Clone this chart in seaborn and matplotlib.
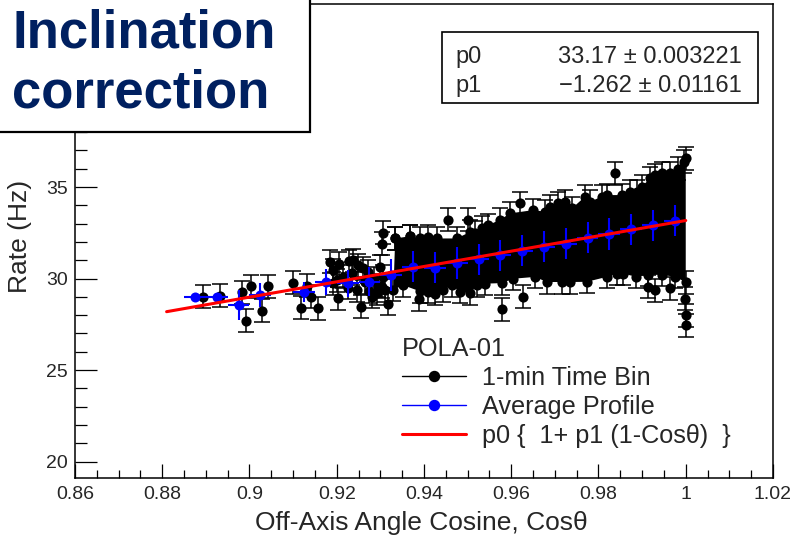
import numpy as np
import pandas as pd
import matplotlib
matplotlib.use("Agg")
import matplotlib.pyplot as plt
import seaborn as sns
from matplotlib.lines import Line2D
from matplotlib.patches import Rectangle
from matplotlib.ticker import MultipleLocator, FixedLocator, FixedFormatter

# ---------------- data ----------------
p0, p0_err = 33.17, 0.003221
p1, p1_err = -1.262, 0.01161

# individual 1-min bins (sparse part + outliers)
pts_x = [0.8893, 0.8932, 0.8983, 0.8991, 0.9003, 0.9029, 0.9042, 0.9099, 0.9118,
         0.9131, 0.9140, 0.9156, 0.9185, 0.9205, 0.9204, 0.9192, 0.9227, 0.9237,
         0.9249, 0.9261, 0.9272, 0.9299, 0.9307, 0.9255, 0.9246, 0.9292, 0.9303,
         0.9311, 0.9192, 0.9215, 0.9280, 0.9318, 0.9305, 0.9303, 0.9334, 0.9368,
         0.9389, 0.9456, 0.9502, 0.9578, 0.9626, 0.9620, 0.9838, 0.9914, 0.9930,
         0.9964, 0.9998, 1.0000, 1.0000, 0.9200, 0.9225, 0.9235, 0.9265, 0.9285,
         0.9295, 0.9275]
pts_y = [29.00, 29.06, 29.26, 27.69, 29.59, 28.24, 29.59, 29.77, 28.40,
         29.60, 29.00, 28.37, 30.91, 30.82, 28.91, 30.46, 30.95, 31.00,
         30.73, 30.55, 30.37, 30.64, 30.09, 28.46, 29.37, 29.19, 29.55,
         29.37, 29.73, 30.09, 29.00, 28.62, 32.49, 31.91, 32.19, 32.31,
         28.88, 33.20, 33.22, 28.33, 29.00, 34.10, 35.74, 29.55, 29.37,
         29.46, 28.90, 28.00, 27.45, 29.90, 29.50, 30.30, 29.80, 30.00,
         29.60, 29.30]

# dense band of 1-min bins: upper and lower edge points
top_x = [0.9334, 0.9368, 0.9391, 0.9410, 0.9429, 0.9475, 0.9506, 0.9517, 0.9532,
         0.9547, 0.9574, 0.9597, 0.9651, 0.9677, 0.9689, 0.9708, 0.9723, 0.9739,
         0.9769, 0.9781, 0.9807, 0.9819, 0.9853, 0.9872, 0.9888, 0.9899, 0.9918,
         0.9930, 0.9945, 0.9964, 0.9983, 0.9995, 1.0000]
top_y = [32.19, 32.31, 32.19, 32.29, 32.19, 32.19, 32.55, 32.50, 32.78,
         32.92, 33.20, 33.56, 33.74, 33.65, 33.92, 34.10, 34.20, 33.83,
         34.47, 34.20, 34.47, 34.56, 34.56, 34.74, 34.74, 35.01, 35.47,
         35.65, 35.74, 35.74, 36.01, 36.38, 36.56]
bot_x = [0.9330, 0.9353, 0.9391, 0.9410, 0.9425, 0.9444, 0.9464, 0.9483, 0.9506,
         0.9521, 0.9540, 0.9578, 0.9605, 0.9655, 0.9681, 0.9716, 0.9735, 0.9773,
         0.9819, 0.9842, 0.9857, 0.9885, 0.9914, 0.9945, 0.9975, 1.0000]
bot_y = [29.40, 29.63, 29.30, 29.27, 29.18, 29.36, 29.63, 29.27, 29.20,
         29.63, 29.72, 29.75, 29.99, 30.09, 29.81, 29.81, 29.81, 29.82,
         30.09, 30.27, 30.27, 30.10, 30.20, 30.20, 30.10, 29.80]
rate_err = 0.63

# average profile (5e-3 wide bins)
prof_x = [0.8875, 0.8925, 0.8975, 0.9025, 0.9125, 0.9175, 0.9225, 0.9275, 0.9325,
          0.9375, 0.9425, 0.9475, 0.9525, 0.9575, 0.9625, 0.9675, 0.9725, 0.9775,
          0.9825, 0.9875, 0.9925, 0.9975]
prof_y = [29.00, 29.00, 28.55, 29.08, 29.27, 29.82, 29.73, 29.82, 30.19,
          30.65, 30.60, 30.85, 31.06, 31.27, 31.52, 31.74, 31.90, 32.22,
          32.43, 32.70, 32.92, 33.15]
prof_yerr = [0.0, 0.0, 0.80, 0.65, 0.55, 0.70, 0.75, 0.80, 0.85,
             0.85, 0.85, 0.85, 0.85, 0.85, 0.85, 0.85, 0.85, 0.85,
             0.85, 0.85, 0.85, 0.85]
prof_xerr = 0.0025

fit_range = [0.881, 1.0]

xtick_vals = [0.86, 0.88, 0.90, 0.92, 0.94, 0.96, 0.98, 1.00, 1.02]
xtick_labels = ["0.86", "0.88", "0.9", "0.92", "0.94", "0.96", "0.98", "1", "1.02"]
ytick_vals = [20, 25, 30, 35]
ytick_labels = ["20", "25", "30", "35"]

# ---------------- figure ----------------
sns.set_theme(style="ticks")
plt.rcParams["font.family"] = ["Liberation Sans", "DejaVu Sans"]

fig = plt.figure(figsize=(7.92, 5.48), dpi=100)
ax = fig.add_axes([0.0947, 0.1277, 0.8813, 0.865])

black = pd.DataFrame({"x": pts_x + top_x + bot_x, "y": pts_y + top_y + bot_y})

# dense band body
poly_x = top_x + bot_x[::-1]
poly_y = top_y + bot_y[::-1]
ax.fill(poly_x, poly_y, color="black", lw=0, zorder=2)

ax.errorbar(black["x"], black["y"], yerr=rate_err, fmt="none", ecolor="black",
            elinewidth=1.1, capsize=5.5, capthick=1.1, zorder=2)
sns.scatterplot(data=black, x="x", y="y", color="black", s=54, linewidth=0,
                ax=ax, zorder=3, legend=False)

prof = pd.DataFrame({"x": prof_x, "y": prof_y})
ax.errorbar(prof_x, prof_y, xerr=prof_xerr, yerr=prof_yerr, fmt="none",
            ecolor="#0000ff", elinewidth=1.5, capsize=0, zorder=4)
sns.scatterplot(data=prof, x="x", y="y", color="#0000ff", s=52, linewidth=0,
                ax=ax, zorder=5, legend=False)

fit = pd.DataFrame({"x": fit_range,
                    "y": [p0 * (1 + p1 * (1 - c)) for c in fit_range]})
sns.lineplot(data=fit, x="x", y="y", color="#ff0000", linewidth=2.2, ax=ax,
             zorder=6)

ax.set_xlim(0.86, 1.02)
ax.set_ylim(19.1, 45.0)
ax.xaxis.set_major_locator(FixedLocator(xtick_vals))
ax.xaxis.set_major_formatter(FixedFormatter(xtick_labels))
ax.yaxis.set_major_locator(FixedLocator(ytick_vals))
ax.yaxis.set_major_formatter(FixedFormatter(ytick_labels))
ax.xaxis.set_minor_locator(MultipleLocator(0.005))
ax.yaxis.set_minor_locator(MultipleLocator(1))
ax.tick_params(axis="x", which="major", direction="in", length=10, width=0.9,
               color="black", labelsize=14, pad=6, top=False)
ax.tick_params(axis="x", which="minor", direction="in", length=5.5, width=0.9,
               color="black", top=False)
ax.tick_params(axis="y", which="major", direction="in", length=16, width=0.9,
               color="black", labelsize=14, pad=5, right=False)
ax.tick_params(axis="y", which="minor", direction="in", length=8.6, width=0.9,
               color="black", right=False)
for s in ax.spines.values():
    s.set_color("black")
    s.set_linewidth(1.1)

ax.set_xlabel("Off-Axis Angle Cosine, Cosθ", fontsize=19)
ax.set_ylabel("Rate (Hz)", fontsize=19)
ax.xaxis.set_label_coords(0.496, -0.070)
ax.yaxis.set_label_coords(-0.062, 0.51)

# legend
handles = [Line2D([], [], color="black", lw=1.0, marker="o", markersize=7.2),
           Line2D([], [], color="#0000ff", lw=1.0, marker="o", markersize=7.2),
           Line2D([], [], color="#ff0000", lw=2.2)]
labels = ["1-min Time Bin", "Average Profile", "p0 {  1+ p1 (1-Cosθ)  }"]
leg = ax.legend(handles, labels, title="POLA-01", loc="upper left",
                bbox_to_anchor=(402 / 792, (548 - 337) / 548),
                bbox_transform=fig.transFigure, frameon=False, fontsize=18.2,
                title_fontsize=18.2, handlelength=2.55, handletextpad=0.6,
                labelspacing=0.2, borderpad=0, borderaxespad=0, numpoints=1,
                alignment="left")

# fit statistics box
fig.patches.append(Rectangle((442 / 792, (548 - 103) / 548), 316 / 792, 71 / 548,
                             transform=fig.transFigure, facecolor="white",
                             edgecolor="black", lw=1.2, zorder=10))
fig.text(455 / 792, (548 - 63) / 548, "p0", fontsize=17, ha="left",
         va="baseline", zorder=11)
fig.text(742 / 792, (548 - 63) / 548, f"{p0:.2f} ± {p0_err}", fontsize=17,
         ha="right", va="baseline", zorder=11)
fig.text(455 / 792, (548 - 92.5) / 548, "p1", fontsize=17, ha="left",
         va="baseline", zorder=11)
fig.text(742 / 792, (548 - 92.5) / 548, f"\u2212{abs(p1):.3f} ± {p1_err}",
         fontsize=17, ha="right", va="baseline", zorder=11)

# title box
fig.patches.append(Rectangle((-0.01, (548 - 132) / 548), 318 / 792, 0.3,
                             transform=fig.transFigure, facecolor="white",
                             edgecolor="black", lw=1.6, zorder=10))
fig.text(12 / 792, (548 - 47) / 548, "Inclination", fontsize=38,
         fontweight="bold", color="#002060", ha="left", va="baseline", zorder=11)
fig.text(12 / 792, (548 - 108) / 548, "correction", fontsize=38,
         fontweight="bold", color="#002060", ha="left", va="baseline", zorder=11)

fig.savefig("out.png", dpi=100)
